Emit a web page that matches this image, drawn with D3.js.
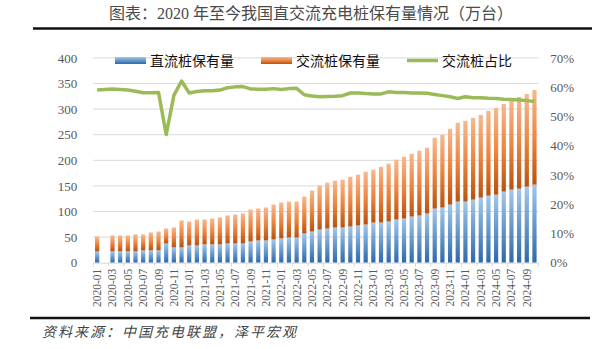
<!DOCTYPE html>
<html>
<head>
<meta charset="utf-8">
<script src="https://cdn.jsdelivr.net/npm/d3@7/dist/d3.min.js"></script>
<style>
  html, body { margin: 0; padding: 0; background: #fff; }
  svg { display: block; }
</style>
</head>
<body>
<svg id="chart" width="597" height="349"></svg>
<script>
// Monthly public charging piles in China, 2020-01 .. 2024-10 (10k units)
const months = [];
for (let y = 2020; y <= 2024; y++) {
  for (let m = 1; m <= 12; m++) {
    if (y === 2024 && m > 10) break;
    months.push(`${y}-${String(m).padStart(2, "0")}`);
  }
}

// DC piles (直流桩保有量)
const dcValues = [22.1, null, 22.1, 22.1, 22.1, 22.1, 24.0, 24.0, 24.0, 37.6, 29.9, 29.9,
  33.7, 33.7, 35.7, 35.7, 35.7, 37.6, 37.6, 37.6, 41.5, 43.5, 43.5, 45.4,
  47.4, 49.3, 49.3, 57.1, 61.0, 64.9, 66.8, 68.8, 68.8, 70.7, 72.7, 74.6,
  78.5, 78.5, 80.5, 84.4, 86.3, 90.2, 92.2, 96.1, 105.8, 107.8, 113.6, 119.4,
  119.4, 123.3, 127.2, 131.1, 133.0, 138.9, 142.8, 144.7, 148.6, 152.5];

// AC piles (交流桩保有量)
const acValues = [29.2, null, 31.1, 31.1, 31.1, 33.1, 31.2, 35.1, 37.0, 29.2, 38.9, 52.5,
  46.8, 50.7, 48.7, 50.6, 52.6, 54.6, 56.5, 58.5, 62.4, 62.3, 64.3, 68.2,
  70.1, 70.1, 70.1, 72.1, 79.8, 85.6, 89.5, 91.4, 93.4, 97.3, 99.2, 103.1,
  103.1, 108.9, 112.8, 116.7, 120.6, 122.6, 126.5, 128.4, 138.2, 142.0, 147.9, 153.8,
  157.7, 159.6, 161.5, 165.4, 169.3, 171.2, 177.0, 179.0, 180.9, 184.8];

// AC share (交流桩占比), percent
const acShare = [59.0, null, 59.4, 59.2, 59.0, 58.6, 58.1, 58.1, 58.2, 43.8, 57.2, 62.1,
  58.0, 58.5, 58.8, 58.8, 59.0, 59.8, 60.1, 60.2, 59.4, 59.3, 59.3, 59.5,
  59.2, 59.5, 59.6, 57.4, 57.0, 56.7, 56.8, 56.9, 57.1, 58.0, 58.0, 57.8,
  57.7, 57.7, 58.4, 58.2, 58.2, 58.0, 58.0, 57.9, 57.5, 57.1, 56.7, 56.1,
  56.7, 56.4, 56.4, 56.2, 56.1, 55.9, 55.8, 55.6, 55.4, 55.1];

const leftTicks = [0, 50, 100, 150, 200, 250, 300, 350, 400];
const rightTicks = [0, 0.1, 0.2, 0.3, 0.4, 0.5, 0.6, 0.7];
const xTickLabels = months.filter((d, i) => i % 2 === 0);

const seriesNames = ["直流桩保有量", "交流桩保有量", "交流桩占比"];
const titleText = "图表：2020 年至今我国直交流充电桩保有量情况（万台）";
const sourceText = "资料来源：中国充电联盟，泽平宏观";

const svg = d3.select("#chart");
const serif = "'Liberation Serif', 'Noto Sans CJK SC', serif";
const cjk = "'Noto Sans CJK SC', sans-serif";

const plot = { left: 93.3, right: 538.3, top: 57.9, bottom: 262.7 };

const x = d3.scaleBand().domain(months)
  .range([plot.left, plot.right]).paddingInner(0.45).paddingOuter(0.225);
const y = d3.scaleLinear().domain([0, 400]).range([plot.bottom, plot.top]);
const y2 = d3.scaleLinear().domain([0, 0.7]).range([plot.bottom, plot.top]);

// gradients
const defs = svg.append("defs");
const blueGrad = defs.append("linearGradient").attr("id", "gBlue")
  .attr("x1", 0).attr("y1", 0).attr("x2", 0).attr("y2", 1);
blueGrad.append("stop").attr("offset", "0%").attr("stop-color", "#a3c7ea");
blueGrad.append("stop").attr("offset", "100%").attr("stop-color", "#2c69ab");
const orangeGrad = defs.append("linearGradient").attr("id", "gOrange")
  .attr("x1", 0).attr("y1", 0).attr("x2", 0).attr("y2", 1);
orangeGrad.append("stop").attr("offset", "0%").attr("stop-color", "#f6b98f");
orangeGrad.append("stop").attr("offset", "50%").attr("stop-color", "#ee8540");
orangeGrad.append("stop").attr("offset", "100%").attr("stop-color", "#b9520f");

// title and rules
svg.append("text").attr("x", 311).attr("y", 19)
  .attr("text-anchor", "middle").attr("font-family", serif)
  .attr("font-size", 16).attr("fill", "#4a4a4a").text(titleText);
svg.append("line").attr("x1", 33).attr("x2", 592).attr("y1", 28.5).attr("y2", 28.5)
  .attr("stroke", "#111").attr("stroke-width", 2.5);
svg.append("line").attr("x1", 30).attr("x2", 590).attr("y1", 318).attr("y2", 318)
  .attr("stroke", "#111").attr("stroke-width", 2.5);
svg.append("text").attr("x", 42).attr("y", 337)
  .attr("font-family", cjk).attr("font-style", "italic").attr("letter-spacing", 2)
  .attr("font-size", 14).attr("fill", "#444").text(sourceText);

// grid
svg.append("g").selectAll("line").data(leftTicks.slice(1)).join("line")
  .attr("x1", plot.left).attr("x2", plot.right)
  .attr("y1", d => y(d)).attr("y2", d => y(d))
  .attr("stroke", "#d9d9d9").attr("stroke-width", 1);

// left axis
const leftAxis = svg.append("g").attr("transform", `translate(${plot.left - 16},0)`)
  .call(d3.axisLeft(y).tickValues(leftTicks).tickSize(0).tickPadding(0));
leftAxis.select(".domain").remove();
leftAxis.selectAll("text").attr("font-family", serif).attr("font-size", 13).attr("fill", "#595959");

// right axis
const rightAxis = svg.append("g").attr("transform", `translate(${plot.right + 12},0)`)
  .call(d3.axisRight(y2).tickValues(rightTicks).tickFormat(d3.format(".0%")).tickSize(0).tickPadding(0));
rightAxis.select(".domain").remove();
rightAxis.selectAll("text").attr("font-family", serif).attr("font-size", 13).attr("fill", "#595959");

// bars
const rows = months.map((m, i) => ({ m, dc: dcValues[i], ac: acValues[i], share: acShare[i] }));
const barRows = rows.filter(r => r.dc != null);
const bars = svg.append("g");
bars.selectAll("rect.dc").data(barRows).join("rect").attr("class", "dc")
  .attr("x", d => x(d.m)).attr("width", x.bandwidth())
  .attr("y", d => y(d.dc)).attr("height", d => y(0) - y(d.dc))
  .attr("fill", "url(#gBlue)");
bars.selectAll("rect.ac").data(barRows).join("rect").attr("class", "ac")
  .attr("x", d => x(d.m)).attr("width", x.bandwidth())
  .attr("y", d => y(d.dc + d.ac)).attr("height", d => y(d.dc) - y(d.dc + d.ac))
  .attr("fill", "url(#gOrange)");

// x axis
svg.append("line").attr("x1", plot.left).attr("x2", plot.right)
  .attr("y1", plot.bottom + 0.5).attr("y2", plot.bottom + 0.5)
  .attr("stroke", "#d9d9d9").attr("stroke-width", 1);
const step = x.step();
const tickPos = d3.range(0, months.length + 1, 2).map(i => plot.left + i * step);
svg.append("g").selectAll("line").data(tickPos).join("line")
  .attr("x1", d => d).attr("x2", d => d)
  .attr("y1", plot.bottom).attr("y2", plot.bottom + 4)
  .attr("stroke", "#d9d9d9");
svg.append("g").selectAll("text").data(xTickLabels).join("text")
  .attr("transform", d => `translate(${x(d) + x.bandwidth() / 2 + 4},${plot.bottom + 6}) rotate(-90)`)
  .attr("text-anchor", "end").attr("font-family", serif)
  .attr("font-size", 11.5).attr("fill", "#595959").text(d => d);

// share line
const lineRows = rows.filter(r => r.share != null);
svg.append("path").datum(lineRows)
  .attr("fill", "none").attr("stroke", "#9bbb59").attr("stroke-width", 3.5)
  .attr("stroke-linejoin", "round")
  .attr("d", d3.line().x(d => x(d.m) + x.bandwidth() / 2).y(d => y2(d.share / 100)));

// legend
const lg = svg.append("g").attr("font-family", cjk).attr("font-size", 14).attr("fill", "#111");
const legendItems = [
  { name: seriesNames[0], x: 115, type: "rect", fill: "url(#gBlue)" },
  { name: seriesNames[1], x: 261, type: "rect", fill: "url(#gOrange)" },
  { name: seriesNames[2], x: 407, type: "line" }
];
legendItems.forEach(it => {
  if (it.type === "rect") {
    lg.append("rect").attr("x", it.x).attr("y", 57).attr("width", 31).attr("height", 7).attr("fill", it.fill);
  } else {
    lg.append("line").attr("x1", it.x).attr("x2", it.x + 31).attr("y1", 60.5).attr("y2", 60.5)
      .attr("stroke", "#9bbb59").attr("stroke-width", 3.5);
  }
  lg.append("text").attr("x", it.x + 35).attr("y", 65.5).text(it.name);
});
</script>
</body>
</html>
